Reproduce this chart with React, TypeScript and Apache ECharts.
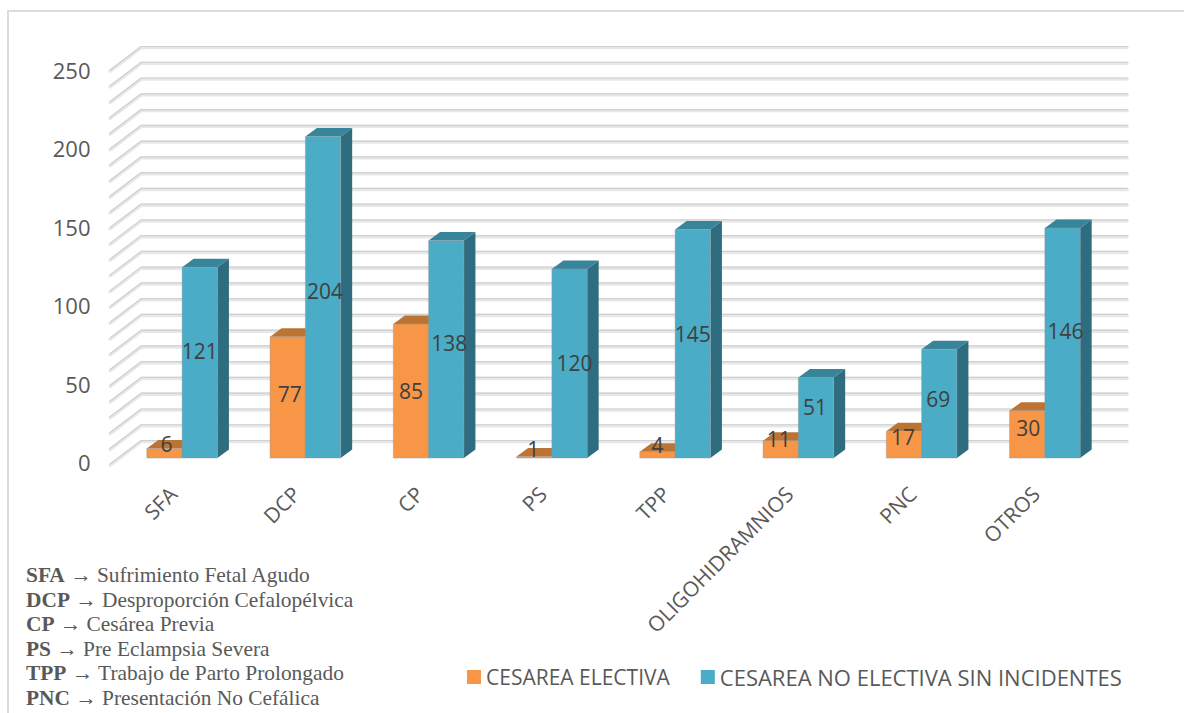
import React, { useEffect, useRef } from "react";
import * as echarts from "echarts";

const categories = ["SFA", "DCP", "CP", "PS", "TPP", "OLIGOHIDRAMNIOS", "PNC", "OTROS"];
const electiva = [6, 77, 85, 1, 4, 11, 17, 30];
const noElectiva = [121, 204, 138, 120, 145, 51, 69, 146];
const gridValues = [0, 10, 20, 30, 40, 50, 60, 70, 80, 90, 100, 110, 120, 130, 140, 150, 160, 170, 180, 190, 200, 210, 220, 230, 240, 250];
const footCodes = ["SFA", "DCP", "CP", "PS", "TPP", "PNC"];
const footNames = [
  "Sufrimiento Fetal Agudo",
  "Desproporción Cefalopélvica",
  "Cesárea Previa",
  "Pre Eclampsia Severa",
  "Trabajo de Parto Prolongado",
  "Presentación No Cefálica",
];
const seriesNames = ["CESAREA ELECTIVA", "CESAREA NO ELECTIVA SIN INCIDENTES"];

// hand placement of the data labels relative to the front face centre [dx, dy]
const electivaNudge = [[2, -9], [2, -3], [0, 0], [-1, -8], [0, -10], [-2, -10], [-1, -8], [1, -6]];
const noElectivaNudge = [[0, -12], [2, -6], [3, -6], [5, 0], [0, -10], [-1, -11], [-1, -5], [3, -12]];

const TEXT = "#595959";
const SANS = "'Open Sans', sans-serif";
const SERIF = "'Liberation Serif', serif";
const DX = 11.5;
const DY = -8.5;
const BAR_W = 35.3;

const palette = [
  { front: "#f79646", top: "#bb7433", side: "#a5642a" },
  { front: "#4aacc6", top: "#37859b", side: "#2e6d7f" },
];

function barRender(seriesIdx: number, nudges: number[][]) {
  return (params: any, api: any) => {
    const i = api.value(0);
    const v = api.value(1);
    const [cx, yTop] = api.coord([i, v]);
    const [, y0] = api.coord([i, 0]);
    const c = palette[seriesIdx];
    const x0 = seriesIdx === 0 ? cx - BAR_W : cx;
    const x1 = x0 + BAR_W;
    const edge = "rgba(150,150,150,0.55)";
    const n = nudges[params.dataIndex];
    return {
      type: "group",
      children: [
        {
          type: "polygon",
          shape: { points: [[x1, y0], [x1 + DX, y0 + DY], [x1 + DX, yTop + DY], [x1, yTop]] },
          style: { fill: c.side },
        },
        {
          type: "polygon",
          shape: { points: [[x0, yTop], [x0 + DX, yTop + DY], [x1 + DX, yTop + DY], [x1, yTop]] },
          style: { fill: c.top },
        },
        {
          type: "rect",
          shape: { x: x0, y: yTop, width: BAR_W, height: y0 - yTop },
          style: { fill: c.front, stroke: edge, lineWidth: 0.8 },
        },
        {
          type: "text",
          z2: 10,
          x: (x0 + x1) / 2 + n[0],
          y: (yTop + y0) / 2 + n[1],
          style: {
            text: String(v),
            fill: "#404040",
            font: `21px ${SANS}`,
            align: "center",
            verticalAlign: "middle",
          },
        },
      ],
    };
  };
}

function gridRender(_params: any, api: any) {
  const v = api.value(0);
  const [cx, y] = api.coord([0, v]);
  const half = api.size([1, 0])[0] / 2;
  const left = cx - half;
  const right = left + half * 16;
  const pts = (off: number) => [
    [left - 10.3, y + 6.5 + off],
    [left + 20.7, y - 17 + off],
    [right + 20.7, y - 17 + off],
  ];
  return {
    type: "group",
    children: [
      {
        type: "polyline",
        shape: { points: pts(0.6) },
        style: { fill: "none", stroke: "#e7e7e7", lineWidth: 3.4, lineCap: "round", lineJoin: "round" },
      },
      {
        type: "polyline",
        shape: { points: pts(-0.5) },
        style: { fill: "none", stroke: "#d0d0d0", lineWidth: 1.2, lineCap: "round", lineJoin: "round" },
      },
    ],
  };
}

export default function App() {
  const ref = useRef<HTMLDivElement>(null);
  useEffect(() => {
    const chart = echarts.init(ref.current!, undefined, { renderer: "svg" });
    const footLines = footCodes.map((code, i) => ({
      type: "text",
      left: 26,
      top: 564 + i * 24.6,
      z: 20,
      style: {
        text: `{b|${code}} → ${footNames[i]}`,
        fill: TEXT,
        font: `21.4px ${SERIF}`,
        lineHeight: 22,
        rich: {
          b: { font: `bold 21.4px ${SERIF}`, fill: TEXT, lineHeight: 22 },
        },
      },
    }));
    chart.setOption({
      animation: false,
      backgroundColor: "#ffffff",
      grid: [
        { left: 120.5, width: 986, top: 64, height: 394 },
        { left: 120.5, width: 986, top: 70, height: 392 },
      ],
      xAxis: [
        {
          type: "category",
          data: categories,
          axisLine: { show: false },
          axisTick: { show: false },
          axisLabel: {
            interval: 0,
            rotate: 45,
            margin: 23,
            padding: [0, 13, 0, 0],
            color: TEXT,
            fontFamily: SANS,
            fontSize: 21,
          },
        },
        { type: "category", gridIndex: 1, data: categories, show: false },
      ],
      yAxis: [
        {
          type: "value",
          min: 0,
          max: 250,
          interval: 50,
          splitLine: { show: false },
          axisLine: { show: false },
          axisTick: { show: false },
          axisLabel: { show: false },
        },
        {
          type: "value",
          gridIndex: 1,
          min: 0,
          max: 250,
          interval: 50,
          splitLine: { show: false },
          axisLine: { show: false },
          axisTick: { show: false },
          axisLabel: { margin: 30, color: TEXT, fontFamily: SANS, fontSize: 22 },
        },
      ],
      legend: {
        left: 467,
        top: 666,
        icon: "rect",
        itemWidth: 14,
        itemHeight: 14,
        itemGap: 31,
        padding: 0,
        data: [
          { name: seriesNames[0], textStyle: { color: TEXT, fontFamily: SANS, fontSize: 21 } },
          { name: seriesNames[1], textStyle: { color: TEXT, fontFamily: SANS, fontSize: 22 } },
        ],
        selectedMode: false,
      },
      graphic: [
        {
          type: "rect",
          z: -1,
          shape: { x: 8, y: 11, width: 1190, height: 720 },
          style: { fill: "none", stroke: "#dcdcdc", lineWidth: 2 },
        },
        ...footLines,
      ],
      series: [
        {
          type: "custom",
          name: "grid",
          z: 1,
          silent: true,
          clip: false,
          data: gridValues.map((v) => [v]),
          encode: { y: 0 },
          renderItem: gridRender,
        },
        {
          type: "custom",
          name: seriesNames[0],
          z: 2,
          clip: false,
          itemStyle: { color: palette[0].front },
          data: electiva.map((v, i) => [i, v]),
          encode: { x: 0, y: 1 },
          renderItem: barRender(0, electivaNudge),
        },
        {
          type: "custom",
          name: seriesNames[1],
          z: 3,
          clip: false,
          itemStyle: { color: palette[1].front },
          data: noElectiva.map((v, i) => [i, v]),
          encode: { x: 0, y: 1 },
          renderItem: barRender(1, noElectivaNudge),
        },
      ],
    });
    return () => chart.dispose();
  }, []);
  return (
    <div
      ref={ref}
      style={{ position: "absolute", left: 0, top: 0, width: 1184, height: 713, overflow: "hidden" }}
    />
  );
}
